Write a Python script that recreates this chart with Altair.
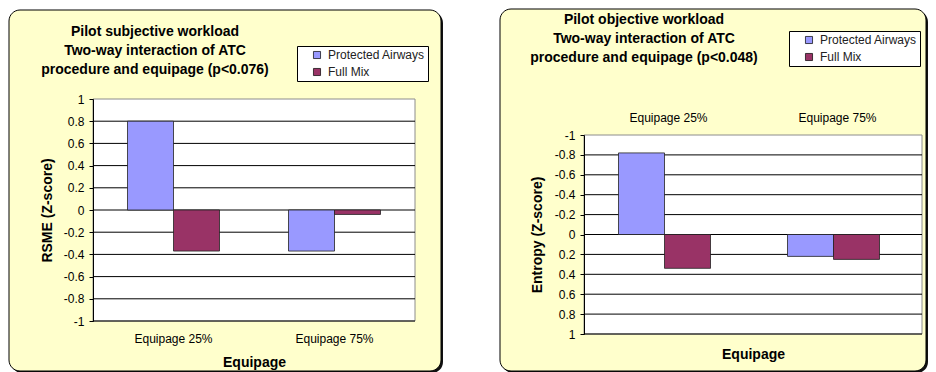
import altair as alt
import pandas as pd

# ---------------- data ----------------
categories = ["Equipage 25%", "Equipage 75%"]
series = ["Protected Airways", "Full Mix"]
series_colors = ["#9999FF", "#993366"]

rsme_pa = [0.80, -0.37]
rsme_fm = [-0.37, -0.04]
entropy_pa = [-0.82, 0.22]
entropy_fm = [0.34, 0.25]

y_ticks = [-1, -0.8, -0.6, -0.4, -0.2, 0, 0.2, 0.4, 0.6, 0.8, 1]

title_left = ["Pilot subjective workload", "Two-way interaction of ATC",
              "procedure and equipage (p<0.076)"]
title_right = ["Pilot objective workload", "Two-way interaction of ATC",
               "procedure and equipage (p<0.048)"]
ytitle_left = "RSME (Z-score)"
ytitle_right = "Entropy (Z-score)"
xtitle = "Equipage"

FONT = "Liberation Sans"


def make_df(pa, fm):
    rows = []
    for c, a, b in zip(categories, pa, fm):
        rows.append({"cat": c, "series": series[0], "value": a})
        rows.append({"cat": c, "series": series[1], "value": b})
    return pd.DataFrame(rows)


def panel(pa, fm, W, H, plot_top, box, title_lines, title_xy, ytitle, ytitle_x,
          yrange, grid_vals, legend_xy, x_orient, x_offset, label_pad, xtitle_y):
    bx1, bx2, by1, by2 = box
    decor = alt.Chart(pd.DataFrame({"k": [0]}))

    shadow = decor.mark_rect(fill="#111111", cornerRadius=11).encode(
        x=alt.value(bx1 + 2), x2=alt.value(bx2 + 2),
        y=alt.value(by1 + 2), y2=alt.value(by2 + 2))
    frame = decor.mark_rect(fill="#FFFFCC", stroke="black", strokeWidth=1,
                            cornerRadius=11).encode(
        x=alt.value(bx1), x2=alt.value(bx2),
        y=alt.value(by1), y2=alt.value(by2))
    plotbg = decor.mark_rect(fill="white", stroke="#8c8c8c", strokeWidth=1).encode(
        x=alt.value(0), x2=alt.value(W), y=alt.value(plot_top), y2=alt.value(H))

    yscale = alt.Scale(domain=[-1, 1], nice=False, zero=False, range=yrange)
    yaxis = alt.Axis(values=y_ticks, labelExpr="toString(datum.value)",
                     title=ytitle, grid=False, domain=True, domainColor="black",
                     ticks=True, tickColor="black", tickSize=4,
                     labelFont=FONT, labelFontSize=12, labelColor="black",
                     labelPadding=5, labelOverlap=False,
                     titleFont=FONT, titleFontSize=14, titleFontWeight="bold",
                     titleColor="black", titleX=ytitle_x,
                     titleY=(plot_top + H) / 2,
                     titleAngle=-90, titleBaseline="middle", titleAlign="center",
                     zindex=1)

    grid = alt.Chart(pd.DataFrame({"v": grid_vals})).mark_rule(
        color="black", strokeWidth=1).encode(
        y=alt.Y("v:Q", scale=yscale, axis=yaxis))

    xaxis = alt.Axis(orient=x_orient, offset=x_offset, title=xtitle, domain=False,
                     ticks=False, tickSize=0, labelAngle=0, labelPadding=label_pad,
                     labelFont=FONT, labelFontSize=12, labelColor="black",
                     titleFont=FONT, titleFontSize=14, titleFontWeight="bold",
                     titleColor="black", titleY=xtitle_y, titleBaseline="middle",
                     zindex=1)

    bars = alt.Chart(make_df(pa, fm)).mark_bar(stroke="#222222", strokeWidth=0.8).encode(
        x=alt.X("cat:N", sort=categories, axis=xaxis,
                scale=alt.Scale(paddingInner=0, paddingOuter=0)),
        xOffset=alt.XOffset("series:N", sort=series,
                            scale=alt.Scale(paddingInner=0, paddingOuter=0.75)),
        y=alt.Y("value:Q", scale=yscale, axis=yaxis),
        color=alt.Color("series:N", sort=series,
                        scale=alt.Scale(domain=series, range=series_colors),
                        legend=alt.Legend(orient="none", legendX=legend_xy[0],
                                          legendY=legend_xy[1], title=None,
                                          fillColor="white", strokeColor="black",
                                          padding=3, symbolType="square",
                                          symbolSize=50, symbolStrokeColor="black",
                                          symbolStrokeWidth=0.7, symbolOffset=11,
                                          labelOffset=5, rowPadding=5,
                                          labelFont=FONT, labelFontSize=12,
                                          labelColor="#222222")),
    )

    title = decor.mark_text(text=title_lines, lineHeight=19, font=FONT,
                            fontSize=14, fontWeight="bold", align="center",
                            baseline="middle", color="black").encode(
        x=alt.value(title_xy[0]), y=alt.value(title_xy[1]))

    return alt.layer(shadow, frame, plotbg, grid, bars, title).properties(
        width=W, height=H)


# both views start at the same page row; the right panel's plot starts 36px lower
left = panel(rsme_pa, rsme_fm, 322, 222, 0, (-84, 348, -89, 272), title_left,
             (62, -67), ytitle_left, -46, [222, 0], y_ticks[:-1], (204, -53),
             "bottom", 0, 12, 41)
right = panel(entropy_pa, entropy_fm, 338, 235, 36, (-84, 342, -90, 272), title_right,
              (60, -79), ytitle_right, -47, [36, 235], y_ticks[1:], (205, -68),
              "top", -36, 11, 219)

chart = alt.concat(left, right, columns=2, spacing=56, align="none").resolve_legend(
    color="independent").properties(padding=0, background="white").configure_view(
    stroke=None)

chart.save("out.html", embed_options={"renderer": "svg", "actions": False})
